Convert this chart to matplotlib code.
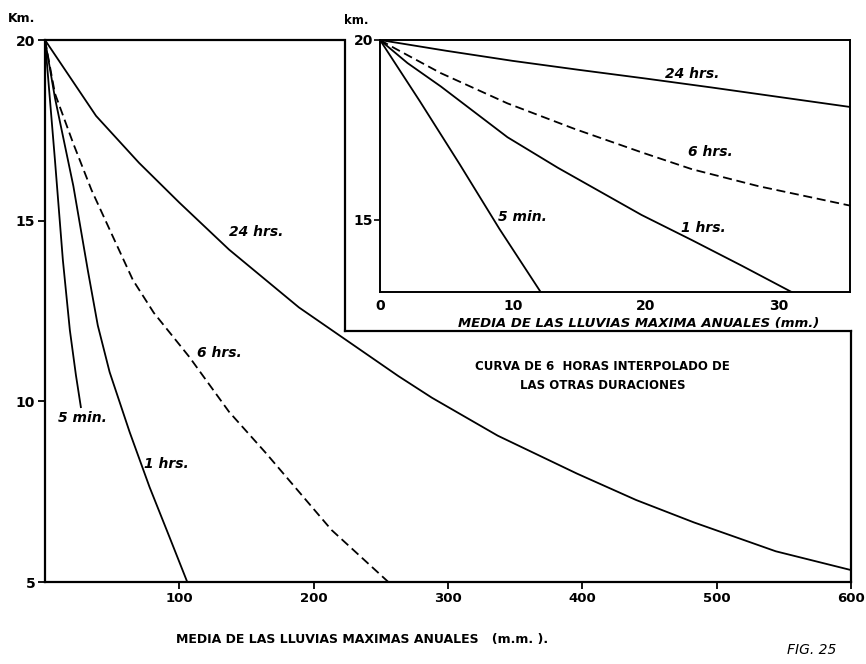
import matplotlib
matplotlib.use("Agg")
import matplotlib.pyplot as plt

# main chart: rainfall (mm) vs distance (km)
x_24h = [0, 38, 70, 100, 137, 189, 263, 288, 337, 396, 440, 483, 544, 600]
y_24h = [20, 17.9, 16.6, 15.5, 14.2, 12.6, 10.7, 10.1, 9.05, 8.0, 7.27, 6.65, 5.85, 5.33]

x_6h = [0, 7.4, 21, 34.6, 49.4, 65.4, 81, 107.4, 137, 164.4, 213.3, 255.6]
y_6h = [20, 18.52, 17.14, 15.85, 14.65, 13.36, 12.45, 11.23, 9.71, 8.57, 6.44, 5.0]

x_1h = [0, 7.4, 21.1, 32, 39.3, 48.1, 63.0, 77.8, 92.6, 105.9]
y_1h = [20, 18.4, 15.96, 13.6, 12.1, 10.81, 9.15, 7.63, 6.25, 5.0]

x_5m = [0, 7.4, 13.3, 18.5, 23.0, 26.7]
y_5m = [20, 16.68, 13.91, 11.97, 10.73, 9.84]

main_xticks = [100, 200, 300, 400, 500, 600]
main_yticks = [5, 10, 15, 20]

# inset: first 35 mm
ix_24h = [0, 5, 10, 15, 20, 25, 30, 35.4]
iy_24h = [20, 19.7, 19.42, 19.17, 18.93, 18.68, 18.42, 18.14]

ix_6h = [0, 1.06, 4.58, 9.6, 14.66, 19.7, 23.5, 28.5, 35.4]
iy_6h = [20, 19.78, 19.08, 18.24, 17.53, 16.88, 16.41, 15.94, 15.40]

ix_1h = [0, 2.07, 4.58, 9.6, 13.4, 19.7, 23.5, 27.25, 31.0]
iy_1h = [20, 19.36, 18.71, 17.30, 16.45, 15.14, 14.44, 13.73, 13.0]

ix_5m = [0, 3, 6, 9, 12.1]
iy_5m = [20, 18.3, 16.55, 14.75, 13.0]

inset_xticks = [0, 10, 20, 30]
inset_yticks = [15, 20]

W, H = 866, 664
LW = 1.3
DASH = (0, (5, 2.6))


def fig_rect(x0, y0, x1, y1):
    # pixel box (top-left origin) -> figure fraction rect
    return [x0 / W, 1 - y1 / H, (x1 - x0) / W, (y1 - y0) / H]


fig = plt.figure(figsize=(W / 100, H / 100), dpi=100)
fig.patch.set_facecolor('white')

ax = fig.add_axes(fig_rect(45, 40, 851, 582))
ax.plot(x_24h, y_24h, color='black', lw=LW)
ax.plot(x_6h, y_6h, color='black', lw=LW, linestyle=DASH)
ax.plot(x_1h, y_1h, color='black', lw=LW)
ax.plot(x_5m, y_5m, color='black', lw=LW)
ax.set_xlim(0, 600)
ax.set_ylim(5, 20)
ax.set_xticks(main_xticks)
ax.set_xticklabels([str(v) for v in main_xticks], fontweight='bold', fontsize=9.5)
ax.set_yticks(main_yticks)
ax.set_yticklabels([str(v) for v in main_yticks], fontweight='bold', fontsize=10)
ax.tick_params(direction='out', length=5, width=1.3, pad=2)
for s in ax.spines.values():
    s.set_linewidth(1.6)
ax.spines['top'].set_bounds(0, 222)
ax.spines['right'].set_bounds(5, 11.95)

lab = dict(fontsize=10, fontweight='bold', fontstyle='italic', va='center', ha='left')
ax.text(137, 14.69, '24 hrs.', **lab)
ax.text(113, 11.34, '6 hrs.', **lab)
ax.text(9.6, 9.54, '5 min.', **lab)
ax.text(74, 8.26, '1 hrs.', **lab)
ax.text(415, 10.7, 'CURVA DE 6  HORAS INTERPOLADO DE\nLAS OTRAS DURACIONES', ha='center',
        va='center', fontsize=8.5, fontweight='bold', linespacing=1.6)

fig.text(35 / W, 1 - 18 / H, 'Km.', ha='right', va='center', fontsize=9, fontweight='bold')
fig.text(362 / W, 1 - 640 / H, 'MEDIA DE LAS LLUVIAS MAXIMAS ANUALES   (m.m. ).', ha='center',
         va='center', fontsize=9, fontweight='bold')
fig.text(812 / W, 1 - 650 / H, 'FIG. 25', ha='center', va='center', fontsize=10,
         fontstyle='italic')

# white frame that holds the inset
box = fig.add_axes(fig_rect(345, 40, 851, 331))
box.set_zorder(2)
box.set_facecolor('white')
box.set_xticks([])
box.set_yticks([])
box.spines['top'].set_visible(False)
box.spines['right'].set_visible(False)
for s in ('left', 'bottom'):
    box.spines[s].set_linewidth(1.6)

ins = fig.add_axes(fig_rect(380, 40, 850, 292))
ins.set_zorder(3)
ins.set_facecolor('white')
ins.plot(ix_24h, iy_24h, color='black', lw=LW)
ins.plot(ix_6h, iy_6h, color='black', lw=LW, linestyle=DASH)
ins.plot(ix_1h, iy_1h, color='black', lw=LW)
ins.plot(ix_5m, iy_5m, color='black', lw=LW)
ins.set_xlim(0, 35.4)
ins.set_ylim(13, 20)
ins.set_xticks(inset_xticks)
ins.set_xticklabels([str(v) for v in inset_xticks], fontweight='bold', fontsize=10)
ins.set_yticks(inset_yticks)
ins.set_yticklabels([str(v) for v in inset_yticks], fontweight='bold', fontsize=10)
ins.tick_params(axis='x', length=0, pad=5)
ins.tick_params(axis='y', direction='out', length=4, width=1.2, pad=1)
for s in ins.spines.values():
    s.set_linewidth(1.4)

ins.text(21.5, 19.05, '24 hrs.', **lab)
ins.text(23.2, 16.88, '6 hrs.', **lab)
ins.text(22.7, 14.77, '1 hrs.', **lab)
ins.text(8.87, 15.09, '5 min.', **lab)

fig.text(639 / W, 1 - 323 / H, 'MEDIA DE LAS LLUVIAS MAXIMA ANUALES (mm.)', ha='center',
         va='center', fontsize=9.5, fontweight='bold', fontstyle='italic', zorder=5)
fig.text(356 / W, 1 - 20 / H, 'km.', ha='center', va='center', fontsize=8.5,
         fontweight='bold', zorder=5)

fig.savefig('out.png', dpi=100, facecolor='white')
